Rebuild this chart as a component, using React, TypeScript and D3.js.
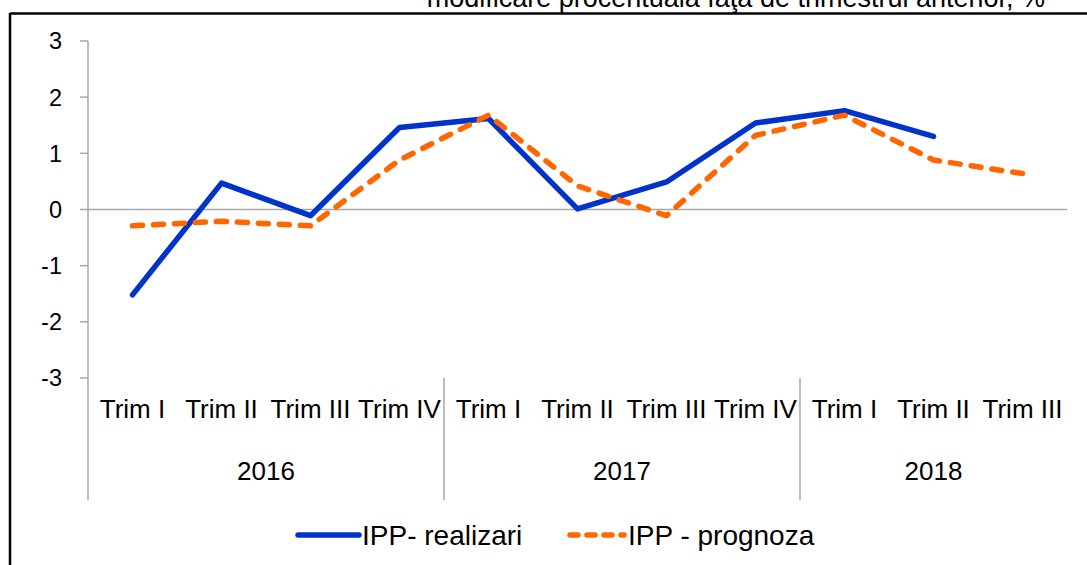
import React from "react";
import * as d3 from "d3";

// quarterly data, % change vs previous quarter
const categories = [
  "Trim I", "Trim II", "Trim III", "Trim IV",
  "Trim I", "Trim II", "Trim III", "Trim IV",
  "Trim I", "Trim II", "Trim III",
];
const years = ["2016", "2017", "2018"];
const quartersPerYear = [4, 4, 3];
const realizari: (number | null)[] = [-1.52, 0.47, -0.11, 1.46, 1.62, 0.01, 0.49, 1.54, 1.76, 1.3, null];
const prognoza: (number | null)[] = [-0.29, -0.21, -0.29, 0.88, 1.68, 0.42, -0.11, 1.32, 1.68, 0.88, 0.64];
const yTicks = [3, 2, 1, 0, -1, -2, -3];

const title = "modificare procentuala faţa de trimestrul anterior, %";
const seriesNames = ["IPP- realizari", "IPP - prognoza"];

const W = 1087;
const H = 565;
const font = "'Liberation Sans', Arial, sans-serif";
const axisColor = "#a6a6a6";
const blue = "#0033cc";
const orange = "#ff6600";

const App = () => {
  const x = d3
    .scaleBand<number>()
    .domain(categories.map((_, i) => i))
    .range([88, 1067])
    .padding(0);
  const y = d3.scaleLinear().domain([-3, 3]).range([378, 41]);
  const cx = (i: number) => (x(i) as number) + x.bandwidth() / 2;

  const line = d3
    .line<number | null>()
    .defined((d) => d !== null)
    .x((_, i) => cx(i))
    .y((d) => y(d as number));

  // group boundaries on the category axis
  let acc = 0;
  const groups = years.map((yr, gi) => {
    const start = acc;
    acc += quartersPerYear[gi];
    return { yr, start, end: acc };
  });
  const x0 = x.range()[0];
  const bw = x.bandwidth();

  return (
    <svg
      width={W}
      height={H}
      style={{ position: "absolute", left: 0, top: 0, background: "#fff" }}
      fontFamily={font}
    >
      {/* title, cropped at top as in the source */}
      <text x={1045} y={7} fontSize={27} textAnchor="end" fill="#000">
        {title}
      </text>
      {/* frame */}
      <line x1={10} x2={W} y1={13.5} y2={13.5} stroke="#000" strokeWidth={2.5} />
      <line x1={10} x2={10} y1={13} y2={H} stroke="#000" strokeWidth={2.5} />

      {/* y axis */}
      <line x1={x0} x2={x0} y1={y(3)} y2={500} stroke={axisColor} strokeWidth={1.5} />
      {yTicks.map((t) => (
        <g key={t}>
          <line x1={x0 - 8} x2={x0} y1={y(t)} y2={y(t)} stroke={axisColor} strokeWidth={1.5} />
          <text x={62} y={y(t)} dy="0.36em" fontSize={23.5} textAnchor="end" fill="#000">
            {t}
          </text>
        </g>
      ))}

      {/* zero line */}
      <line x1={x0} x2={x.range()[1]} y1={y(0)} y2={y(0)} stroke={axisColor} strokeWidth={1.5} />

      {/* category labels */}
      {categories.map((c, i) => (
        <text key={i} x={cx(i)} y={418} fontSize={26} textAnchor="middle" fill="#000">
          {c}
        </text>
      ))}
      {groups.map((g, gi) => (
        <g key={g.yr}>
          {gi > 0 && (
            <line
              x1={x0 + g.start * bw}
              x2={x0 + g.start * bw}
              y1={y(-3)}
              y2={500}
              stroke={axisColor}
              strokeWidth={1.5}
            />
          )}
          <text
            x={x0 + ((g.start + g.end) / 2) * bw}
            y={480}
            fontSize={26}
            textAnchor="middle"
            fill="#000"
          >
            {g.yr}
          </text>
        </g>
      ))}

      {/* series */}
      <path
        d={line(realizari) || ""}
        fill="none"
        stroke={blue}
        strokeWidth={5.5}
        strokeLinejoin="round"
        strokeLinecap="round"
      />
      <path
        d={line(prognoza) || ""}
        fill="none"
        stroke={orange}
        strokeWidth={5.5}
        strokeDasharray="10 11"
        strokeLinejoin="round"
        strokeLinecap="round"
      />

      {/* legend */}
      <line x1={298} x2={359} y1={535} y2={535} stroke={blue} strokeWidth={5.5} strokeLinecap="round" />
      <text x={362} y={535} dy="0.36em" fontSize={28} fill="#000">
        {seriesNames[0]}
      </text>
      <line
        x1={570}
        x2={624}
        y1={535}
        y2={535}
        stroke={orange}
        strokeWidth={5.5}
        strokeDasharray="8 9"
        strokeLinecap="round"
      />
      <text x={628} y={535} dy="0.36em" fontSize={28} fill="#000">
        {seriesNames[1]}
      </text>
    </svg>
  );
};

export default App;
